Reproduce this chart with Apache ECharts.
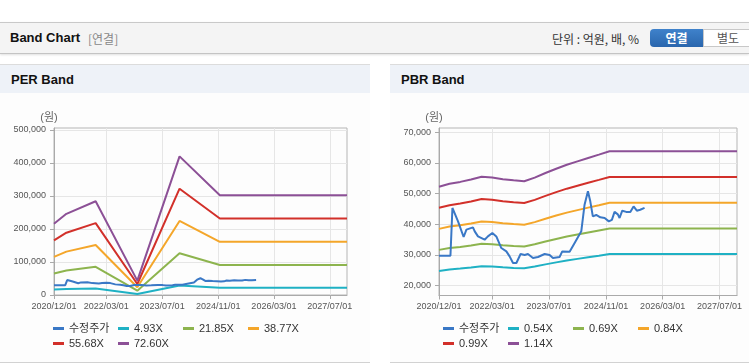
<!DOCTYPE html>
<html><head><meta charset="utf-8">
<script src="https://cdn.jsdelivr.net/npm/echarts@6/dist/echarts.min.js"></script>
<style>
html,body{margin:0;padding:0;width:749px;height:364px;overflow:hidden;background:#fff;font-family:"Liberation Sans","Noto Sans CJK KR",sans-serif;}
#hdr{position:absolute;left:0;top:22px;width:749px;height:30px;background:#f4f4f4;border-top:1px solid #c9c9c9;border-bottom:1px solid #c4c4c4;box-shadow:0 1px 2px rgba(0,0,0,0.12);}
#hdr .t{position:absolute;left:10px;top:7px;font-size:13px;font-weight:bold;color:#111;}
#hdr .s{position:absolute;left:88px;top:7px;font-size:12px;color:#888;font-family:"Noto Sans CJK KR",sans-serif;}
#hdr .u{position:absolute;left:552px;top:7px;font-size:12px;color:#333;font-family:"Noto Sans CJK KR",sans-serif;}
#b1{position:absolute;left:650px;top:6px;width:53px;height:18px;background:linear-gradient(#3f82cb,#2a66ad);border-radius:4px 0 0 4px;color:#fff;font-weight:bold;font-size:12px;text-align:center;line-height:18px;font-family:"Noto Sans CJK KR",sans-serif;}
#b2{position:absolute;left:703px;top:6px;width:50px;height:16px;background:#fff;border:1px solid #c8c8c8;color:#555;font-size:12px;text-align:left;padding-left:13px;line-height:16px;font-family:"Noto Sans CJK KR",sans-serif;}
.panel{position:absolute;top:64px;height:297px;border-top:1px solid #dcdcdc;border-bottom:1px solid #d2d2d2;background:#fdfdfd;}
#p1{left:0;width:370px;} #p2{left:390px;width:359px;}
.pt{height:28px;background:#eef2f8;font-weight:bold;font-size:13px;line-height:29px;padding-left:11px;color:#111;}
#chart{position:absolute;left:0;top:0;width:749px;height:364px;}
</style></head>
<body>
<div id="hdr"><span class="t">Band Chart</span><span class="s">[연결]</span><span class="u">단위 : 억원, 배, %</span><div id="b1">연결</div><div id="b2">별도</div></div>
<div class="panel" id="p1"><div class="pt">PER Band</div></div>
<div class="panel" id="p2"><div class="pt">PBR Band</div></div>
<div id="chart"></div>
<script>
// ---- data ----
const tickLabels = ['2020/12/01','2022/03/01','2023/07/01','2024/11/01','2026/03/01','2027/07/01'];
const xStart = '2020/12/01';
const xEnd = '2027/11/28';
const perTicks = [0,100000,200000,300000,400000,500000];
const pbrTicks = [20000,30000,40000,50000,60000,70000];

const priceName = '수정주가';
const priceDates = ['2020/12/01','2021/03/09','2021/03/26','2021/05/13','2021/06/30','2021/07/24','2021/09/18','2021/10/03','2021/10/31','2021/12/27','2022/01/24','2022/03/03','2022/04/06','2022/05/19','2022/07/01','2022/07/29','2022/08/27','2022/09/25','2022/10/31','2022/12/05','2023/01/02','2023/02/14','2023/03/29','2023/05/25','2023/07/07','2023/08/04','2023/09/30','2023/10/23','2023/12/25','2024/02/06','2024/04/03','2024/05/01','2024/05/30','2024/06/19','2024/07/11','2024/08/09','2024/09/13','2024/10/20','2024/11/25','2024/12/21','2025/01/13','2025/02/10','2025/02/25','2025/03/20','2025/04/23','2025/05/28','2025/06/25','2025/07/23','2025/08/21','2025/09/27'];
const priceValues = [29700,29700,45300,40900,35800,38200,38950,37650,36000,34930,36000,37120,36000,32200,31100,29480,27300,27300,30260,29930,30260,28950,29280,30260,29930,28950,29280,31100,31000,33860,37650,46370,50720,47450,42550,43000,42220,42000,40900,41400,44000,43200,42000,44400,44000,44000,45800,44400,44700,45300];

const perNames = ['4.93X','21.85X','38.77X','55.68X','72.60X'];
const perDates = ['2020/12/01','2021/03/19','2021/11/29','2022/11/27','2023/11/30','2024/11/15','2027/11/28'];
const per493  = [17000,18500,20000,3000,29000,22000,22000];
const per2185 = [65000,74100,85500,13100,126400,90900,90900];
const per3877 = [115300,131400,151700,23300,224300,161300,161300];
const per5568 = [165600,188800,217800,33400,322100,231600,231600];
const per7260 = [216000,246000,284000,43600,420000,302000,302000];

const pbrNames = ['0.54X','0.69X','0.84X','0.99X','1.14X'];
const pbrDates = ['2020/12/01','2021/03/01','2021/06/01','2021/09/01','2021/12/01','2022/03/01','2022/06/01','2022/09/01','2022/12/01','2023/03/01','2023/06/01','2023/09/01','2023/12/01','2024/03/01','2024/06/01','2024/09/01','2024/12/01','2027/11/28'];
const pbr054 = [24730,25200,25480,25860,26290,26150,25910,25720,25580,26150,26860,27520,28140,28660,29180,29700,30220,30220];
const pbr069 = [31600,32200,32560,33040,33590,33410,33110,32860,32690,33410,34320,35160,35960,36620,37290,37950,38610,38610];
const pbr084 = [38460,39200,39640,40230,40890,40670,40300,40010,39790,40670,41780,42810,43770,44580,45390,46200,47010,47010];
const pbr099 = [45330,46200,46720,47410,48190,47940,47500,47150,46900,47940,49240,50450,51590,52540,53500,54450,55400,55400];
const pbr114 = [52200,53200,53800,54600,55500,55200,54700,54300,54000,55200,56700,58100,59400,60500,61600,62700,63800,63800];

const colors = ['#3a78c6','#1fb1c4','#8db44e','#f4a62a','#d2302a','#8c5096'];

// ---- build ----
function ts(s){const p=s.split('/');return Date.UTC(+p[0],+p[1]-1,+p[2]);}
function pairs(d,v){return d.map((x,i)=>[ts(x),v[i]]);}
const tickValues = tickLabels.map(ts);
const FONT = '"Liberation Sans","Noto Sans CJK KR",sans-serif';

function xAxis(g){
  return {type:'value',gridIndex:g,min:ts(xStart),max:ts(xEnd),
    axisLine:{show:true,lineStyle:{color:'#aaaaaa'}},
    axisTick:{show:true,customValues:tickValues,length:4,lineStyle:{color:'#aaaaaa'}},
    axisLabel:{customValues:tickValues,fontSize:9,color:'#555',margin:7,fontFamily:FONT,
      formatter:v=>{const i=tickValues.indexOf(v);return i>=0?tickLabels[i]:'';}},
    splitLine:{show:true,lineStyle:{color:'#e6e6e6'}}};
}
function yAxis(g,min,max,ticks){
  return {type:'value',gridIndex:g,min:min,max:max,name:'(원)',nameLocation:'end',nameGap:5,
    nameTextStyle:{color:'#666',fontSize:11,fontFamily:FONT,padding:[0,10,0,0]},
    axisLine:{show:true,lineStyle:{color:'#aaaaaa'}},
    axisTick:{show:true,customValues:ticks,length:4,lineStyle:{color:'#aaaaaa'}},
    axisLabel:{customValues:ticks,fontSize:9,color:'#555',margin:8,fontFamily:FONT,
      formatter:v=>v.toLocaleString('en-US')},
    splitLine:{show:true,lineStyle:{color:'#e6e6e6'}}};
}
function line(name,data,g,color,z){
  return {type:'line',name:name,xAxisIndex:g,yAxisIndex:g,data:data,showSymbol:false,symbol:'none',
    lineStyle:{width:2,color:color},itemStyle:{color:color},z:z||2,animation:false};
}
const perSeries=[per493,per2185,per3877,per5568,per7260];
const pbrSeries=[pbr054,pbr069,pbr084,pbr099,pbr114];
const series=[];
series.push(line(priceName,pairs(priceDates,priceValues),0,colors[0],5));
perNames.forEach((n,i)=>series.push(line(n,pairs(perDates,perSeries[i]),0,colors[i+1])));
series.push(line(priceName,pairs(priceDates,priceValues),1,colors[0],5));
pbrNames.forEach((n,i)=>series.push(line(n,pairs(pbrDates,pbrSeries[i]),1,colors[i+1])));

// one legend per item, laid out in fixed 65px columns, 4 per row
const legends=[];
function addLegends(baseLeft,names){
  names.forEach((n,k)=>{
    legends.push({left:baseLeft+(k%4)*65,top:323+Math.floor(k/4)*15,data:[n],icon:'rect',padding:0,
      itemWidth:11,itemHeight:3,itemGap:5,selectedMode:false,
      textStyle:{fontSize:11,color:'#333',fontFamily:FONT}});
  });
}
addLegends(53,[priceName].concat(perNames));
addLegends(443,[priceName].concat(pbrNames));

const chart = echarts.init(document.getElementById('chart'));
chart.setOption({
  animation:false,
  backgroundColor:'transparent',
  grid:[{left:54,top:128,width:293,height:167,show:true,borderColor:'#b5b5b5',backgroundColor:'transparent'},
        {left:439,top:128,width:298,height:167.5,show:true,borderColor:'#b5b5b5',backgroundColor:'transparent'}],
  xAxis:[xAxis(0),xAxis(1)],
  yAxis:[yAxis(0,0,506000,perTicks),yAxis(1,16700,71400,pbrTicks)],
  legend:legends,
  series:series
});
</script>
</body></html>
